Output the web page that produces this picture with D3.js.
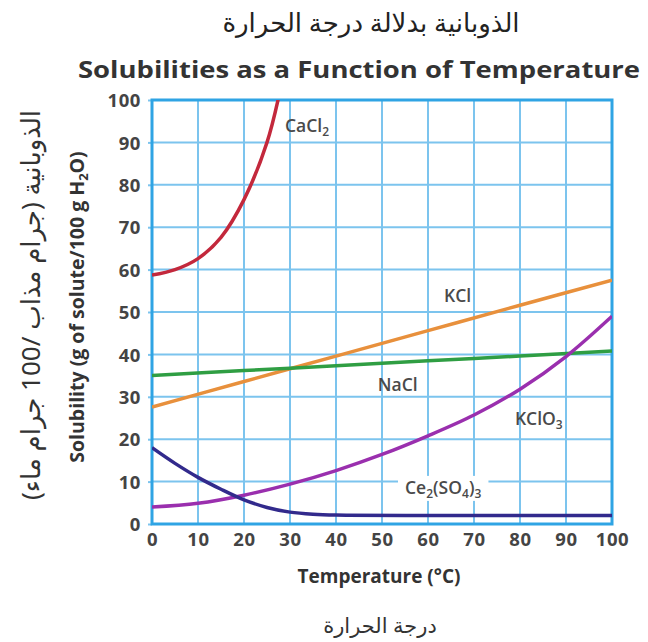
<!DOCTYPE html>
<html>
<head>
<meta charset="utf-8">
<script src="https://cdn.jsdelivr.net/npm/d3@7"></script>
<style>
  body { margin: 0; background: #fff; }
  svg { display: block; }
  .tick text { font-family: "Open Sans", sans-serif; font-weight: 700; fill: #444; letter-spacing: 0.6px; }
  .lbl { font-family: "Open Sans", sans-serif; font-weight: 600; fill: #4a4a4a; font-size: 17.5px; }
</style>
</head>
<body>
<svg width="648" height="642"></svg>
<script>
// temperatures (°C) and solubility readings (g / 100 g water)
var tempTicks = [0, 10, 20, 30, 40, 50, 60, 70, 80, 90, 100]
var solTicks = [0, 10, 20, 30, 40, 50, 60, 70, 80, 90, 100]

var cacl2T = [0, 5, 10, 15, 20, 25, 28]
var cacl2V = [58.7, 60, 62.6, 67.6, 76.5, 90, 103]

var kclT = [0, 20, 40, 60, 80, 100]
var kclV = [27.6, 33.6, 39.6, 45.6, 51.6, 57.5]

var naclT = [0, 20, 40, 60, 80, 100]
var naclV = [35, 36.2, 37.3, 38.5, 39.6, 40.8]

var kclo3T = [0, 10, 20, 30, 40, 50, 60, 70, 80, 90, 100]
var kclo3V = [4, 4.9, 6.8, 9.4, 12.6, 16.4, 20.8, 25.7, 31.8, 39.5, 49]

var ce2T = [0, 5, 10, 15, 20, 25, 30, 35, 40, 60, 80, 100]
var ce2V = [18, 14.3, 11, 8.2, 5.7, 3.9, 2.8, 2.3, 2.1, 2, 2, 2]

var svg = d3.select("svg")
var margins = {top: 100, left: 152}
var width = 460, height = 424

var xScale = d3.scaleLinear().domain([0, 100]).range([0, width])
var yScale = d3.scaleLinear().domain([0, 100]).range([height, 0])

var g = svg.append("g")
    .attr("transform", "translate(" + margins.left + "," + margins.top + ")")

g.append("clipPath").attr("id", "plotClip")
    .append("rect").attr("width", width).attr("height", height)

// grid
g.selectAll(".vgrid").data(tempTicks).enter().append("line")
    .attr("x1", function(d){ return xScale(d) }).attr("x2", function(d){ return xScale(d) })
    .attr("y1", 0).attr("y2", height)
    .attr("stroke", "#7cc4ee").attr("stroke-width", 2)
g.selectAll(".hgrid").data(solTicks).enter().append("line")
    .attr("y1", function(d){ return yScale(d) }).attr("y2", function(d){ return yScale(d) })
    .attr("x1", 0).attr("x2", width)
    .attr("stroke", "#7cc4ee").attr("stroke-width", 2)

// axes (labels only, small ticks)
var xAxis = d3.axisBottom(xScale).tickValues(tempTicks).tickSize(0).tickPadding(9)
var yAxis = d3.axisLeft(yScale).tickValues(solTicks).tickSize(4).tickPadding(7)

g.append("g").attr("transform", "translate(0," + height + ")").call(xAxis)
    .call(function(a){ a.select(".domain").remove() })
    .selectAll("text").style("font-size", "18.5px")
g.append("g").call(yAxis)
    .call(function(a){ a.select(".domain").remove() })
    .call(function(a){ a.selectAll("line").attr("stroke", "#7cc4ee").attr("stroke-width", 2) })
    .selectAll("text").style("font-size", "18.5px").attr("dy", "0.36em")

// frame
g.append("rect").attr("width", width).attr("height", height)
    .attr("fill", "none").attr("stroke", "#2fa4e4").attr("stroke-width", 3)

// Ce2(SO4)3 label sits on white behind the grid
var ceLabel = g.append("text").attr("class", "lbl")
    .attr("x", xScale(55)).attr("y", yScale(7.1))
ceLabel.append("tspan").text("Ce")
ceLabel.append("tspan").text("2").attr("dy", 4).style("font-size", "12px")
ceLabel.append("tspan").text("(SO").attr("dy", -4)
ceLabel.append("tspan").text("4").attr("dy", 4).style("font-size", "12px")
ceLabel.append("tspan").text(")").attr("dy", -4)
ceLabel.append("tspan").text("3").attr("dy", 4).style("font-size", "12px")
var bb = ceLabel.node().getBBox()
g.insert("rect", "text.lbl")
    .attr("x", bb.x - 7).attr("y", bb.y + 1).attr("width", bb.width + 14).attr("height", bb.height - 2)
    .attr("fill", "#fff")

var line = d3.line()
    .x(function(d){ return xScale(d[0]) })
    .y(function(d){ return yScale(d[1]) })
    .curve(d3.curveCatmullRom.alpha(0.5))

var series = [
    {t: kclT, v: kclV, color: "#e8903c"},
    {t: naclT, v: naclV, color: "#2f9e43"},
    {t: kclo3T, v: kclo3V, color: "#9a2fae"},
    {t: ce2T, v: ce2V, color: "#322a8c"},
    {t: cacl2T, v: cacl2V, color: "#c3283c"}
]

series.forEach(function(s){
    var pts = s.t.map(function(t, i){ return [t, s.v[i]] })
    g.append("path").datum(pts)
        .attr("d", line)
        .attr("fill", "none")
        .attr("stroke", s.color)
        .attr("stroke-width", 3.5)
        .attr("clip-path", "url(#plotClip)")
})

// curve labels
var addLabel = function(x, y, main, sub){
    var t = g.append("text").attr("class", "lbl").attr("x", xScale(x)).attr("y", yScale(y))
    t.append("tspan").text(main)
    if(sub) t.append("tspan").text(sub).attr("dy", 4).style("font-size", "12px")
}
addLabel(28.9, 92.5, "CaCl", "2")
addLabel(63.5, 52.4, "KCl")
addLabel(49.1, 31.4, "NaCl")
addLabel(78.9, 23.3, "KClO", "3")

// titles
svg.append("text").attr("x", 371).attr("y", 32)
    .attr("text-anchor", "middle")
    .style("font-family", "'Noto Sans', 'DejaVu Sans', sans-serif").style("font-size", "26px").style("fill", "#222")
    .text("الذوبانية بدلالة درجة الحرارة")

svg.append("text").attr("x", 359).attr("y", 78)
    .attr("text-anchor", "middle")
    .attr("textLength", 562).attr("lengthAdjust", "spacingAndGlyphs")
    .style("font-family", "'Open Sans', sans-serif").style("font-weight", 700).style("font-size", "23px").style("fill", "#333")
    .text("Solubilities as a Function of Temperature")

// axis titles
var yt = svg.append("text")
    .attr("transform", "translate(84,307) rotate(-90)")
    .attr("text-anchor", "middle")
    .style("font-family", "'Open Sans', sans-serif").style("font-weight", 700).style("font-size", "19.5px").style("fill", "#333")
yt.append("tspan").text("Solubility (g of solute/100 g H")
yt.append("tspan").text("2").attr("dy", 4).style("font-size", "13px")
yt.append("tspan").text("O)").attr("dy", -4)

svg.append("text")
    .attr("transform", "translate(40,305) rotate(-90)")
    .attr("text-anchor", "middle")
    .style("font-family", "'Noto Sans', 'DejaVu Sans', sans-serif").style("font-size", "26px").style("fill", "#333")
    .text("الذوبانية (جرام مذاب /100 جرام ماء)")

svg.append("text").attr("x", 379).attr("y", 583)
    .attr("text-anchor", "middle")
    .style("font-family", "'Open Sans', sans-serif").style("font-weight", 700).style("font-size", "19px").style("fill", "#333")
    .text("Temperature (°C)")

svg.append("text").attr("x", 380).attr("y", 633)
    .attr("text-anchor", "middle")
    .style("font-family", "'Noto Sans', 'DejaVu Sans', sans-serif").style("font-size", "21px").style("fill", "#333")
    .text("درجة الحرارة")
</script>
</body>
</html>
